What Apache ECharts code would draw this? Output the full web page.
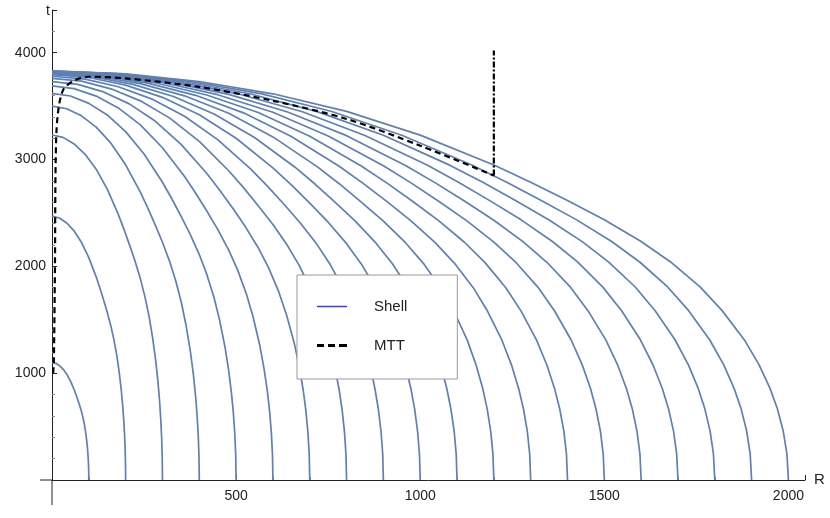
<!DOCTYPE html>
<html><head><meta charset="utf-8">
<script src="https://cdn.jsdelivr.net/npm/echarts@6/dist/echarts.min.js"></script>
<style>html,body{margin:0;padding:0;background:#fff}#c{width:830px;height:518px}</style>
</head><body><div id="c"></div>
<script>
// Shell curves: initial radius R0, top time t0 (at R=0), and read shape (t/t0 at R/R0 positions)
const shellR0 = [100,200,300,400,500,600,700,800,900,1000,1100,1200,1300,1400,1500,1600,1700,1800,1900,2000];
const shellT0 = [1100,2470,3230,3500,3620,3690,3730,3760,3780,3795,3803,3810,3815,3818,3821,3824,3826,3828,3829,3830];
const shellFrac = [0, 0.1, 0.2, 0.3, 0.4, 0.5, 0.6, 0.65, 0.7, 0.75, 0.8, 0.84, 0.88, 0.91, 0.94, 0.96, 0.975, 0.985, 0.993, 0.998, 1];
const shape = [1, 0.993, 0.974, 0.944, 0.901, 0.843, 0.77, 0.728, 0.683, 0.636, 0.583, 0.533, 0.472, 0.414, 0.343, 0.282, 0.224, 0.174, 0.119, 0.063, 0];
const mttR = [3,5,8,10,15,30,60,100,200,400,600,800,1000,1200];
const mttT = [1000,1100,2000,3000,3400,3650,3740,3775,3760,3680,3550,3380,3130,2850];
const vertR = [1200,1200];
const vertT = [2850,4020];
const xTicks = [500,1000,1500,2000];
const yTicks = [1000,2000,3000,4000];

const series = [];
shellR0.forEach((r0,i)=>{
  series.push({name:'Shell',type:'line',smooth:false,symbol:'none',silent:true,
    lineStyle:{color:'#5d80b6',width:1.7,join:'round'},itemStyle:{color:'#5d80b6'},
    data:shellFrac.map((f,j)=>[r0*f, shellT0[i]*shape[j]])});
});
series.push({name:'MTT',type:'line',smooth:0.3,symbol:'none',z:5,
  lineStyle:{color:'#000',width:2.2,type:[6,4]},itemStyle:{color:'#000'},
  data:mttR.map((r,i)=>[r,mttT[i]])});
series.push({name:'vert',type:'line',symbol:'none',z:5,
  lineStyle:{color:'#000',width:2.2,type:[6,2,2,2]},
  data:vertR.map((r,i)=>[r,vertT[i]])});

const chart = echarts.init(document.getElementById('c'));
chart.setOption({
  animation:false,
  grid:{left:52,right:25,top:10,bottom:38},
  legend:{orient:'vertical',left:297,top:275,padding:[24,50,26,20],itemGap:24,
    backgroundColor:'#fff',borderColor:'#999',borderWidth:1,itemWidth:30,
    textStyle:{fontFamily:'Liberation Sans',fontSize:15,color:'#222',padding:[0,0,0,22]},
    data:[{name:'Shell',icon:'path://M0,0L30,0L30,1.5L0,1.5Z',itemStyle:{color:'#3b3bf0'}},
          {name:'MTT',icon:'path://M0,0L7,0L7,3L0,3ZM11,0L18,0L18,3L11,3ZM22,0L30,0L30,3L22,3Z',itemStyle:{color:'#000'}}]},
  xAxis:{type:'value',min:0,max:2045,interval:500,
    axisLine:{lineStyle:{color:'#222'}},
    axisTick:{inside:true,length:5,lineStyle:{color:'#222'}},
    minorTick:{show:true,splitNumber:5,length:3,lineStyle:{color:'#888'}},
    splitLine:{show:false},
    axisLabel:{showMinLabel:false,showMaxLabel:false,color:'#222',fontFamily:'Liberation Sans',fontSize:14,margin:9,
      formatter:v=>xTicks.includes(v)?String(v):''}},
  yAxis:{type:'value',min:0,max:4400,interval:1000,
    axisLine:{show:true,onZero:true,lineStyle:{color:'#222'}},
    axisTick:{show:true,inside:true,length:5,lineStyle:{color:'#222'}},
    minorTick:{show:true,splitNumber:5,length:3,lineStyle:{color:'#888'}},
    splitLine:{show:false},
    axisLabel:{showMinLabel:false,showMaxLabel:false,color:'#222',fontFamily:'Liberation Sans',fontSize:14,margin:6,
      formatter:v=>yTicks.includes(v)?String(v):''}},
  graphic:[
    {type:'text',left:46,top:4,style:{text:'t',font:'14px Liberation Sans',fill:'#222'}},
    {type:'text',left:814,top:472,style:{text:'R',font:'15px Liberation Sans',fill:'#222'}},
    {type:'line',shape:{x1:40,y1:480,x2:52,y2:480},style:{stroke:'#222',lineWidth:1}},
    {type:'line',shape:{x1:52,y1:480,x2:52,y2:505},style:{stroke:'#222',lineWidth:1}}
  ],
  series
});
</script></body></html>
